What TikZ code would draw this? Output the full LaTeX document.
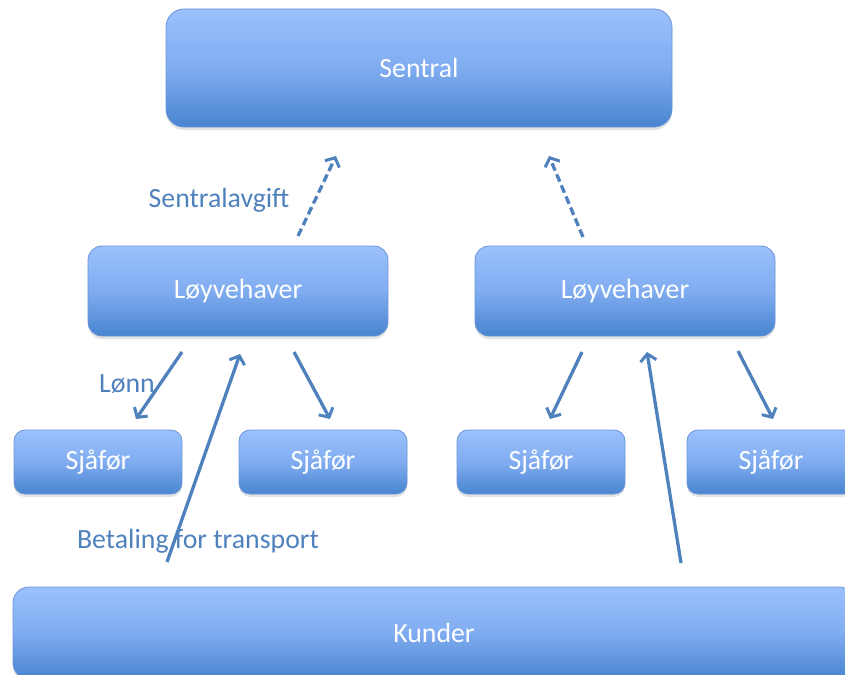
\documentclass[tikz,border=0pt]{standalone}
\usepackage{fontspec}
\setmainfont{Carlito}
\usetikzlibrary{arrows.meta,shadows}

\definecolor{boxtop}{RGB}{155,193,253}
\definecolor{boxmid}{RGB}{128,172,240}
\definecolor{boxbot}{RGB}{72,132,208}
\definecolor{boxline}{RGB}{108,148,214}
\definecolor{flow}{RGB}{79,129,189}

\tikzset{
  unit/.style={draw=boxline, line width=0.8pt,
    top color=boxtop, bottom color=boxbot, middle color=boxmid,
    drop shadow={shadow xshift=0pt, shadow yshift=-3pt, opacity=0.22},
    text=white, font=\fontsize{27.8}{33}\selectfont, inner sep=0pt},
  bigunit/.style={unit, rounded corners=18pt, minimum width=506pt, minimum height=118pt},
  midunit/.style={unit, rounded corners=14pt, minimum width=300pt, minimum height=90pt},
  smallunit/.style={unit, rounded corners=11pt, minimum width=168pt, minimum height=64pt},
  wideunit/.style={unit, rounded corners=16pt, minimum width=842pt, minimum height=92pt},
  flowarrow/.style={draw=flow, line width=3.3pt,
    -{Straight Barb[length=7pt,width=16pt,line width=3pt]}},
  feearrow/.style={flowarrow, dash pattern=on 8pt off 4pt},
  flowlabel/.style={text=flow, font=\fontsize{27.8}{33}\selectfont, anchor=base, inner sep=0pt}
}

\begin{document}
\begin{tikzpicture}[x=1pt, y=-1pt]
  \useasboundingbox (0,0) rectangle (845,674);
  \clip (0,0) rectangle (845,674);

  % boxes
  \node[bigunit]   (sentral) at (419,68)  {Sentral};
  \node[midunit]   (lvA)     at (238,291) {Løyvehaver};
  \node[midunit]   (lvB)     at (625,291) {Løyvehaver};
  \node[smallunit] (sA)      at (98,462)  {Sjåfør};
  \node[smallunit] (sB)      at (323,462) {Sjåfør};
  \node[smallunit] (sC)      at (541,462) {Sjåfør};
  \node[smallunit] (sD)      at (771,462) {Sjåfør};
  \node[wideunit]  (kunder)  at (434,633) {Kunder};

  % arrow end points
  \coordinate (feeAfrom) at (298,236);
  \coordinate (feeAto)   at (336,156);
  \coordinate (feeBfrom) at (583,237);
  \coordinate (feeBto)   at (549,156);

  \coordinate (payAfrom) at (182,352);
  \coordinate (payAto)   at (136,419);
  \coordinate (payBfrom) at (294,352);
  \coordinate (payBto)   at (330,419);
  \coordinate (payCfrom) at (582,352);
  \coordinate (payCto)   at (550,419);
  \coordinate (payDfrom) at (738,351);
  \coordinate (payDto)   at (773,419);

  \coordinate (custAfrom) at (167,562);
  \coordinate (custAto)   at (240,354);
  \coordinate (custBfrom) at (681,563);
  \coordinate (custBto)   at (647,352);

  % fees to the central
  \draw[feearrow] (feeAfrom) -- (feeAto);
  \draw[feearrow] (feeBfrom) -- (feeBto);

  % wages to drivers
  \draw[flowarrow] (payAfrom) -- (payAto);
  \draw[flowarrow] (payBfrom) -- (payBto);
  \draw[flowarrow] (payCfrom) -- (payCto);
  \draw[flowarrow] (payDfrom) -- (payDto);

  % customer payments
  \draw[flowarrow] (custAfrom) -- (custAto);
  \draw[flowarrow] (custBfrom) -- (custBto);

  % labels
  \node[flowlabel] (feelabel) at (219,207) {Sentralavgift};
  \node[flowlabel] (paylabel) at (127,392) {Lønn};
  \node[flowlabel] (custlabel) at (198,548) {Betaling for transport};
\end{tikzpicture}
\end{document}
